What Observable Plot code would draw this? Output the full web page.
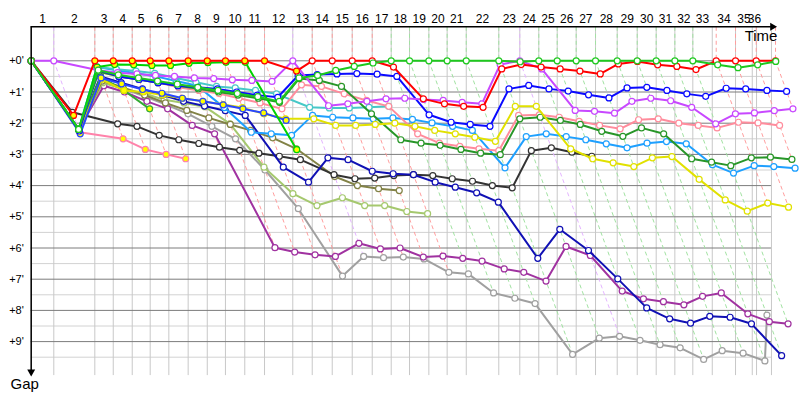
<!DOCTYPE html>
<html><head><meta charset="utf-8">
<script src="https://cdn.jsdelivr.net/npm/d3@7"></script>
<script src="https://cdn.jsdelivr.net/npm/@observablehq/plot@0.6"></script>
<style>body{margin:0;background:#fff}</style>
</head><body><div id="chart"></div>
<script>
// leader's elapsed time (minutes) at the end of each lap (index = lap)
const lapTime = [0, 2.0, 5.63, 7.26, 8.94, 10.53, 12.18, 13.89, 15.58, 17.19, 18.90, 20.65, 23.15, 24.87, 26.64, 28.41, 30.18, 31.86, 33.48, 35.19, 36.81, 38.50, 41.38, 43.24, 44.92, 46.55, 48.23, 49.94, 51.86, 53.63, 55.31, 56.96, 58.55, 60.62, 62.33, 64.16, 65.87];
// vertical grid lines (minutes)
const gridTime = [0, 2.0, 5.63, 7.26, 8.94, 10.53, 12.18, 13.89, 15.58, 17.19, 18.90, 20.65, 23.15, 24.87, 26.64, 28.41, 30.18, 31.86, 33.48, 35.19, 36.81, 38.50, 41.38, 43.24, 44.92, 46.55, 48.23, 49.94, 51.86, 53.63, 55.31, 56.96, 58.55, 60.27, 62.33, 63.81, 64.19, 65.51];
const lapNumbers = d3.range(1, 37);
// who led each lap (index = lap)
const lapLeader = [null, "violet", "red", "red", "red", "red", "red", "red", "red", "red", "red", "red", "violet", "red", "red", "red", "red", "green", "green", "green", "green", "green", "green", "violet", "green", "green", "green", "green", "green", "green", "green", "green", "green", "red", "red", "red", "red"];
const gapTicks = [0, 1, 2, 3, 4, 5, 6, 7, 8, 9];

// gaps to the leader (minutes) per lap, index = lap
const red = [0, 1.75, 0,0,0,0,0,0,0,0,0,0, 0.33, 0,0,0,0, 0.2, 1.22,1.38,1.46,1.49, 0.26,0.12,0.2,0.26,0.33,0.42, 0.1,0.02,0.13,0.18,0.28, 0,0,0,0];
const green = [0, 2.2, 0.3,0.45,0.55,0.65,0.75,0.85,0.95,1.05,1.15, 1.3, 0.55, 0.47,0.31,0.18,0.07, 0,0,0,0,0,0, 0.03, 0,0,0,0,0,0,0,0,0, 0.13,0.22,0.13,0.02];
const violet = [0, 0, 0.3,0.38,0.42,0.47,0.5,0.55,0.57,0.61,0.63,0.66, 0, 1.44,1.38,1.3,1.22, 1.2,1.24,1.27,1.33,1.38, 0.12, 0, 0.26, 1.59,1.62,1.68, 1.3,1.2,1.28,1.49,2.02,1.7,1.67,1.6,1.54];
const blue = [0, 2.25, 0.3,0.5,0.6,0.7,0.8,0.85,0.9,1.0,1.1, 1.17, 0.47, 0.44,0.42,0.41,0.43, 0.5, 1.73,1.97,2.04,2.1, 0.9,0.79,0.9,0.97,1.09,1.19, 0.87,0.85,0.95,1.06,1.14, 0.88,0.9,0.95,0.98];
const navy = [0, 2.2, 0.5,0.7,0.9,1.1,1.3,1.45,1.6,1.75,3.41, 3.89, 3.11, 3.17,3.54,3.62,3.65, 3.89,4.05,4.23,4.53,6.33, 5.4,6.08,6.99,7.92,8.27,8.41,8.19,8.22,8.43,9.45];
const black = [0, 1.65, 2.02,2.1,2.39,2.53,2.65,2.77,2.87,2.96,3.06,3.17, 3.65,3.78,3.76,3.68,3.65, 3.68,3.78,3.86,4.0,4.07, 2.88,2.79,2.93,3.06];
const cyan = [0, 2.2, 0.2,0.27,0.33,0.4,0.54,0.69,0.82,0.87,0.95,1.06, 1.49, 1.51,1.51,1.49,1.46];
const lightblue = [0, 2.2, 0.2,0.3,0.4,0.5,0.65,0.8,1.5,2.29,2.34,2.39, 1.75,1.81,1.83,1.86,1.83, 1.88,1.99,2.1,2.23,3.43, 2.43,2.34,2.43,2.53,2.66,2.79,2.64,2.59,2.66,3.33,3.6,3.36,3.39,3.44];
const yellow = [0, 2.25, 0.6,0.95,1.0,1.1,1.2,1.3,1.4,1.5,1.7,1.86, 1.86,2.07,2.07,2.04,2.0, 2.1,2.23,2.34,2.45,2.58, 1.46,1.46, 2.82,3.14,3.27,3.39,3.11,3.07,3.8,4.46,4.82,4.56,4.69];
const pink = [0, 2.2, 0.35,0.5,0.6,0.7,0.85,0.95,1.05,1.2,1.35,1.54, 0.77,0.82,1.06,1.27,1.46, 2.34,2.64,2.74,2.82,2.88, 1.75,1.73,1.81,1.94,2.07,2.18,1.89,1.86,2.0,2.07,2.15,1.97,1.99,2.07];
const darkgreen = [0, 2.2, 0.35,0.5,0.6,0.7,0.8,0.9,1.0,1.1,1.2, 1.33, 0.57, 0.63,0.82,1.7,2.53, 2.64,2.71,2.84,2.96,3.01, 1.86,1.81,1.91,2.04,2.26,2.42,2.15,2.34,3.14,3.25,3.36,3.11,3.09,3.16];
const olive = [0, 2.2, 0.65,0.85,1.1,1.35,1.59,1.83,2.04,2.23,2.47,2.82, 3.71,4.0,4.1,4.16];
const lightgreen = [0, 2.2, 0.7,0.9,1.05,1.25,1.35,1.47,2.02,3.41,4.26,4.64, 4.39,4.64,4.64,4.83,4.9];
const gray = [0, 2.2, 0.7,0.9,1.15,1.4,1.7,2.1,2.5,3.5,4.74,6.9, 6.27,6.31,6.29,6.35, 6.78,6.83,7.44,7.61,7.78,9.41, 8.89,8.83,8.96,9.1,9.2,9.57,9.29,9.37,9.62,8.15];
const purple = [0, 2.2, 0.8,1.0,1.3,1.54,2.07,2.34,5.99,6.13,6.22,6.27, 5.85,6.03,6.0,6.29,6.26,6.33,6.42,6.67,6.78,7.06, 5.95,6.24,7.38,7.63,7.72,7.82,7.55,7.44,8.11,8.36,8.43];
const pink2 = [0, 2.29, 2.5, 2.84, 3.0, 3.14];
const green2 = [0, 2.2, 0.52, 0.95, 1.54];
const green3 = [0, 2.2, 0.2, 0.12, 0.13, 0.15, 0.15, 0.08, 0.06, 0.05, 0.05, 2.85];
const blue2 = [0, 2.34, 0.55, 0.74, 0.92, 1.04, 1.2, 1.3, 1.41, 1.54, 1.67, 1.91];

// drawing order (bottom first) and styles
const carOrder = ["gray","purple","lightgreen","olive","black","navy","pink2","green2","lightblue","cyan","pink","darkgreen","yellow","blue2","blue","green3","violet","red","green"];
const carData = {red, green, violet, blue, navy, black, cyan, lightblue, yellow, pink, darkgreen, olive, lightgreen, gray, purple, pink2, green2, green3, blue2};
const carColor = {red:"#ff0000", green:"#1ec81e", violet:"#c848ff", blue:"#0a0aff", navy:"#1010b4", black:"#333333", cyan:"#46c8c8", lightblue:"#1ea0ff", yellow:"#e1e100", pink:"#ff8c9c", darkgreen:"#289628", olive:"#828246", lightgreen:"#a5c86e", gray:"#a0a0a0", purple:"#a032a0", pink2:"#ff82aa", green2:"#32aa32", green3:"#00d200", blue2:"#2846ff"};
const yellowUntil = {red:12, pink2:99, green2:99, green3:99, blue2:99, yellow:11};
const dashColor = {red:"#ff9e9e", green:"#a2e2a2", violet:"#e4b4ff"};

const yTop = -1.09, yBottom = 10.09, gridEnd = 65.51;

const rowsByCar = {};
for (const c of carOrder) {
  rowsByCar[c] = carData[c].map((g, lap) => ({car: c, lap, g, x: lapTime[lap] + g,
    fill: lap <= (yellowUntil[c] ?? -1) ? "#ffff00" : "#ffffff"}));
}
const lapRows = lapNumbers.map(n => {
  let m = 0;
  for (const c of carOrder) { const v = carData[c][n]; if (v != null && v > m) m = v; }
  return {n, t: lapTime[n], maxGap: m, color: dashColor[lapLeader[n]]};
});

const marks = [
  Plot.ruleY(d3.range(0.5, 10, 1), {x1: 0, x2: gridEnd, stroke: "#d2d2d2", strokeWidth: 1}),
  Plot.ruleX(gridTime, {x: d => d, y1: yTop, y2: yBottom, stroke: "#c8c8c8", strokeWidth: 1}),
  Plot.ruleY(gapTicks, {x1: 0, x2: gridEnd, stroke: "#7c7c7c", strokeWidth: 1}),
  Plot.link(lapRows, {x1: "t", y1: () => yTop, x2: "t", y2: () => 0, stroke: "color", strokeDasharray: "4,3", strokeWidth: 1}),
  Plot.link(lapRows, {x1: "t", y1: () => 0, x2: d => d.t + d.maxGap, y2: "maxGap", stroke: "color", strokeDasharray: "4,3", strokeWidth: 1})
];
for (const c of carOrder) {
  marks.push(Plot.line(rowsByCar[c], {x: "x", y: "g", stroke: carColor[c], strokeWidth: 2}));
  marks.push(Plot.dot(rowsByCar[c], {x: "x", y: "g", r: 3, fill: "fill", stroke: carColor[c], strokeWidth: 1.2}));
}
marks.push(
  Plot.ruleY([yTop], {x1: 0, x2: 65.5, stroke: "black", strokeWidth: 1.5}),
  Plot.dot([0], {x: () => 65.6, y: () => yTop, symbol: "triangle2", rotate: 90, r: 3.8, fill: "black", stroke: "none"}),
  Plot.ruleX([0], {y1: yTop, y2: 9.97, stroke: "black", strokeWidth: 1.5}),
  Plot.dot([0], {x: () => 0, y: () => 9.97, symbol: "triangle2", rotate: 180, r: 3.8, fill: "black", stroke: "none"}),
  Plot.text(lapNumbers, {x: n => (gridTime[n - 1] + gridTime[n]) / 2, y: () => -1.34, text: n => String(n), fontSize: 12, fill: "black"}),
  Plot.text(gapTicks, {x: () => -1.95, y: d => d, text: d => `+${d}'`, textAnchor: "start", fontSize: 11, fill: "black"}),
  Plot.text(["Time"], {x: () => 66.04, y: () => -0.78, text: d => d, textAnchor: "end", fontSize: 15, fill: "black"}),
  Plot.text(["Gap"], {x: () => -1.83, y: () => 10.36, text: d => d, textAnchor: "start", fontSize: 15, fill: "black"})
);

const chart = Plot.plot({
  width: 800, height: 400, margin: 0,
  style: {background: "#ffffff", fontFamily: "Liberation Sans, Arial, sans-serif"},
  x: {domain: [0, gridEnd], range: [30.7, 30.7 + gridEnd * 11.3], axis: null},
  y: {domain: [0, 10], range: [60.3, 372.3], axis: null},
  color: {type: "identity"},
  marks
});
document.getElementById("chart").appendChild(chart);
</script>
</body></html>
